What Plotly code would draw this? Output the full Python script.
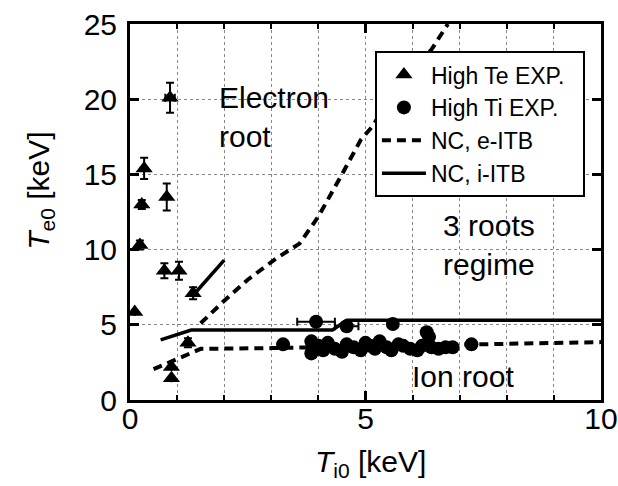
import plotly.graph_objects as go

# ---- data ----
te_x = [0.85, 0.30, 0.25, 0.78, 0.21, 0.73, 1.04, 1.34, 0.10, 1.23, 0.88, 0.88]
te_y = [20.1, 15.4, 13.0, 13.5, 10.3, 8.6, 8.6, 7.1, 5.85, 3.8, 2.2, 1.45]
te_yerr = [1.0, 0.7, 0.3, 0.9, 0.3, 0.5, 0.6, 0.4, 0.0, 0.3, 0.0, 0.0]
te_xerr = [0.1, 0.0, 0.0, 0.0, 0.0, 0.0, 0.0, 0.0, 0.0, 0.0, 0.0, 0.0]

ti_x = [3.25, 3.95, 4.60, 5.58, 6.30,
        3.85, 3.90, 3.85, 4.00, 4.10, 4.20, 4.35, 4.50, 4.60, 4.75, 4.90,
        5.00, 5.10, 5.20, 5.30, 5.45, 5.55, 5.70, 5.80, 5.95, 6.10, 6.20,
        6.35, 6.40, 6.55, 6.70, 6.85, 7.25]
ti_y = [3.70, 5.20, 4.90, 5.05, 4.50,
        3.90, 3.50, 3.10, 3.60, 3.30, 3.80, 3.40, 3.20, 3.70, 3.50, 3.30,
        3.80, 3.60, 3.40, 3.90, 3.50, 3.30, 3.70, 3.60, 3.40, 3.30, 3.60,
        4.20, 3.50, 3.40, 3.50, 3.50, 3.70]
ti_xerr = [0.0, 0.4, 0.25, 0.0, 0.0,
           0.0, 0.15, 0.1, 0.0, 0.1, 0.0, 0.0, 0.1, 0.0, 0.1, 0.0,
           0.0, 0.1, 0.0, 0.0, 0.1, 0.0, 0.0, 0.1, 0.0, 0.1, 0.0,
           0.0, 0.1, 0.0, 0.1, 0.0, 0.0]

nc_e_low_x = [0.50, 1.50, 3.00, 10.0]
nc_e_low_y = [2.05, 3.40, 3.45, 3.85]
nc_e_up_x = [1.50, 2.00, 2.50, 3.10, 3.60, 4.00, 4.50, 4.90, 5.15, 5.60, 6.00, 6.40, 6.75]
nc_e_up_y = [5.10, 6.60, 8.00, 9.40, 10.4, 12.2, 15.0, 17.3, 18.2, 20.5, 22.0, 23.3, 25.0]

nc_i_x = [0.65, 1.30, 4.30, 4.60, 10.0]
nc_i_y = [4.00, 4.65, 4.65, 5.30, 5.30]
nc_i_up_x = [1.35, 2.00]
nc_i_up_y = [7.00, 9.30]

FONT = "Arial, Liberation Sans, sans-serif"
NB = "\u00a0"

fig = go.Figure()

fig.add_trace(go.Scatter(
    x=te_x, y=te_y, mode="markers", name="High Te EXP." + NB * 2,
    marker=dict(symbol="triangle-up", size=15, color="black"),
    error_y=dict(type="data", array=te_yerr, color="black", thickness=2, width=4),
    error_x=dict(type="data", array=te_xerr, color="black", thickness=2, width=4),
))
fig.add_trace(go.Scatter(
    x=ti_x, y=ti_y, mode="markers", name="High Ti EXP.",
    marker=dict(symbol="circle", size=14, color="black"),
    error_x=dict(type="data", array=ti_xerr, color="black", thickness=2, width=4),
))
fig.add_trace(go.Scatter(
    x=nc_e_low_x, y=nc_e_low_y, mode="lines", name="NC, e-ITB",
    line=dict(color="black", width=4, dash="9px,6px"),
))
fig.add_trace(go.Scatter(
    x=nc_e_up_x, y=nc_e_up_y, mode="lines", showlegend=False,
    line=dict(color="black", width=4, dash="9px,6px"),
))
fig.add_trace(go.Scatter(
    x=nc_i_x, y=nc_i_y, mode="lines", name="NC, i-ITB",
    line=dict(color="black", width=3.5),
))
fig.add_trace(go.Scatter(
    x=nc_i_up_x, y=nc_i_up_y, mode="lines", showlegend=False,
    line=dict(color="black", width=3.5),
))

fig.add_annotation(x=1.85, y=18.8, xref="x", yref="y", text="Electron<br>root",
                   showarrow=False, xanchor="left", yanchor="middle", align="left",
                   font=dict(family=FONT, size=30, color="black"))
fig.add_annotation(x=7.63, y=10.3, xref="x", yref="y", text="3 roots<br>regime",
                   showarrow=False, xanchor="center", yanchor="middle", align="center",
                   font=dict(family=FONT, size=30, color="black"))
fig.add_annotation(x=5.95, y=1.55, xref="x", yref="y", text="Ion root",
                   showarrow=False, xanchor="left", yanchor="middle", align="left",
                   font=dict(family=FONT, size=30, color="black"))

# axis titles
fig.add_annotation(x=0.51, y=-0.17, xref="paper", yref="paper",
                   text="<i>T</i><sub>i0</sub> [keV]", showarrow=False,
                   xanchor="center", yanchor="middle",
                   font=dict(family=FONT, size=30, color="black"))
fig.add_annotation(x=-0.19, y=0.555, xref="paper", yref="paper",
                   text="<i>T</i><sub>e0</sub> [keV]", showarrow=False, textangle=-90,
                   xanchor="center", yanchor="middle",
                   font=dict(family=FONT, size=30, color="black"))

axis_common = dict(
    showline=True, linewidth=3, linecolor="black", mirror="ticks",
    ticks="inside", ticklen=9, tickwidth=3, tickcolor="black",
    showgrid=True, gridcolor="#888888", griddash="dot", gridwidth=1,
    zeroline=False, automargin=False,
    tickfont=dict(family=FONT, size=30, color="black"),
)

fig.update_xaxes(range=[0, 10], tick0=0, dtick=5, ticklabelstandoff=-10,
                 minor=dict(dtick=1, ticks="inside", ticklen=5, tickwidth=2, tickcolor="black",
                            showgrid=True, gridcolor="#888888", griddash="dot", gridwidth=1),
                 **axis_common)
fig.update_yaxes(range=[0, 25], tick0=0, dtick=5, ticklabelstandoff=4,
                 **axis_common)

fig.update_layout(
    width=618, height=486,
    margin=dict(l=130, r=17, t=24, b=86),
    plot_bgcolor="white", paper_bgcolor="white",
    legend=dict(x=0.52, y=0.928, xanchor="left", yanchor="top",
                bgcolor="white", bordercolor="black", borderwidth=2,
                font=dict(family=FONT, size=23, color="black"),
                itemwidth=44, tracegroupgap=0),
)

fig.write_html("out.html", config={"displayModeBar": False},
               post_script="document.body.style.margin='0';document.body.style.overflow='hidden';")
